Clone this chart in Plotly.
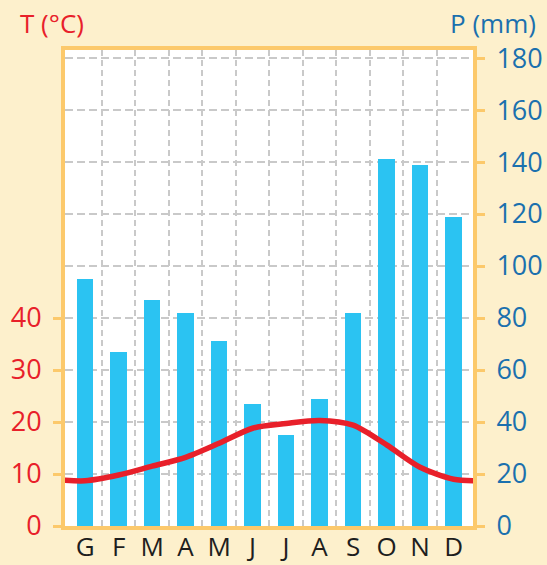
import plotly.graph_objects as go

months = ["G", "F", "M", "A", "M", "J", "J", "A", "S", "O", "N", "D"]
precip_mm = [95, 67, 87, 82, 71, 47, 35, 49, 82, 141, 139, 119]
temp_c = [8.7, 9.8, 11.5, 13.2, 15.9, 18.8, 19.7, 20.3, 19.4, 15.6, 11.3, 9.0]
temp_ticks = [0, 10, 20, 30, 40]
precip_ticks = [0, 20, 40, 60, 80, 100, 120, 140, 160, 180]

RED = "#e8202a"
BLUE = "#1b70ae"
BAR = "#2bc3f2"
ORANGE = "#fcc96b"
BG = "#fdf0cc"
GRID = "#c9c9c9"
FONT = "Open Sans"

x = list(range(len(months)))
# cyclic continuation so the curve reaches both frame edges
tx = [-1] + x + [len(months)]
ty = [temp_c[-1]] + temp_c + [temp_c[0]]

fig = go.Figure()
fig.add_trace(go.Bar(x=x, y=precip_mm, width=0.5, marker=dict(color=BAR, line=dict(width=0)),
                     yaxis="y", showlegend=False))
fig.add_trace(go.Scatter(x=tx, y=ty, mode="lines", line=dict(color=RED, width=5.5, shape="spline", smoothing=0.8),
                         yaxis="y2", showlegend=False))

pmax = 183.1
fig.update_layout(
    width=547, height=565,
    margin=dict(l=65, r=74, t=50, b=39, autoexpand=False),
    paper_bgcolor=BG, plot_bgcolor="white",
    font=dict(family=FONT),
    bargap=0,
    xaxis=dict(
        range=[-0.6, 11.58], tickvals=x, ticktext=months, automargin=False,
        tickfont=dict(size=26, color="#1e1e1e"),
        showgrid=False, zeroline=False,
        showline=True, linecolor=ORANGE, linewidth=4, mirror=True,
        ticks="", ticklabelstandoff=-5,
        minor=dict(tickvals=[i + 0.5 for i in range(len(months) - 1)], showgrid=True,
                   gridcolor=GRID, gridwidth=2, griddash="6px,4px", ticks=""),
    ),
    yaxis=dict(
        side="right", range=[0, pmax], tickvals=precip_ticks, automargin=False,
        tickfont=dict(size=27, color=BLUE),
        showgrid=True, gridcolor=GRID, gridwidth=2, griddash="8px,4px",
        zeroline=False, showline=True, linecolor=ORANGE, linewidth=4,
        ticks="outside", ticklen=8, tickwidth=3, tickcolor=ORANGE, ticklabelstandoff=6,
    ),
    yaxis2=dict(
        overlaying="y", side="left", range=[0, pmax / 2], tickvals=temp_ticks, automargin=False,
        tickfont=dict(size=27, color=RED),
        showgrid=False, zeroline=False, showline=True, linecolor=ORANGE, linewidth=4,
        ticks="outside", ticklen=8, tickwidth=3, tickcolor=ORANGE, ticklabelstandoff=6,
    ),
    annotations=[
        dict(text="T (°C)", xref="paper", yref="paper", x=-0.033, y=1.0, yshift=27,
             xanchor="center", yanchor="middle", showarrow=False,
             font=dict(size=26, color=RED, family=FONT)),
        dict(text="P (mm)", xref="paper", yref="paper", x=1.049, y=1.0, yshift=27,
             xanchor="center", yanchor="middle", showarrow=False,
             font=dict(size=26, color=BLUE, family=FONT)),
    ],
)

fig.write_html(
    "out.html",
    config={"displayModeBar": False},
    post_script="document.body.style.margin='0';document.body.style.background='#fdf0cc';",
)
